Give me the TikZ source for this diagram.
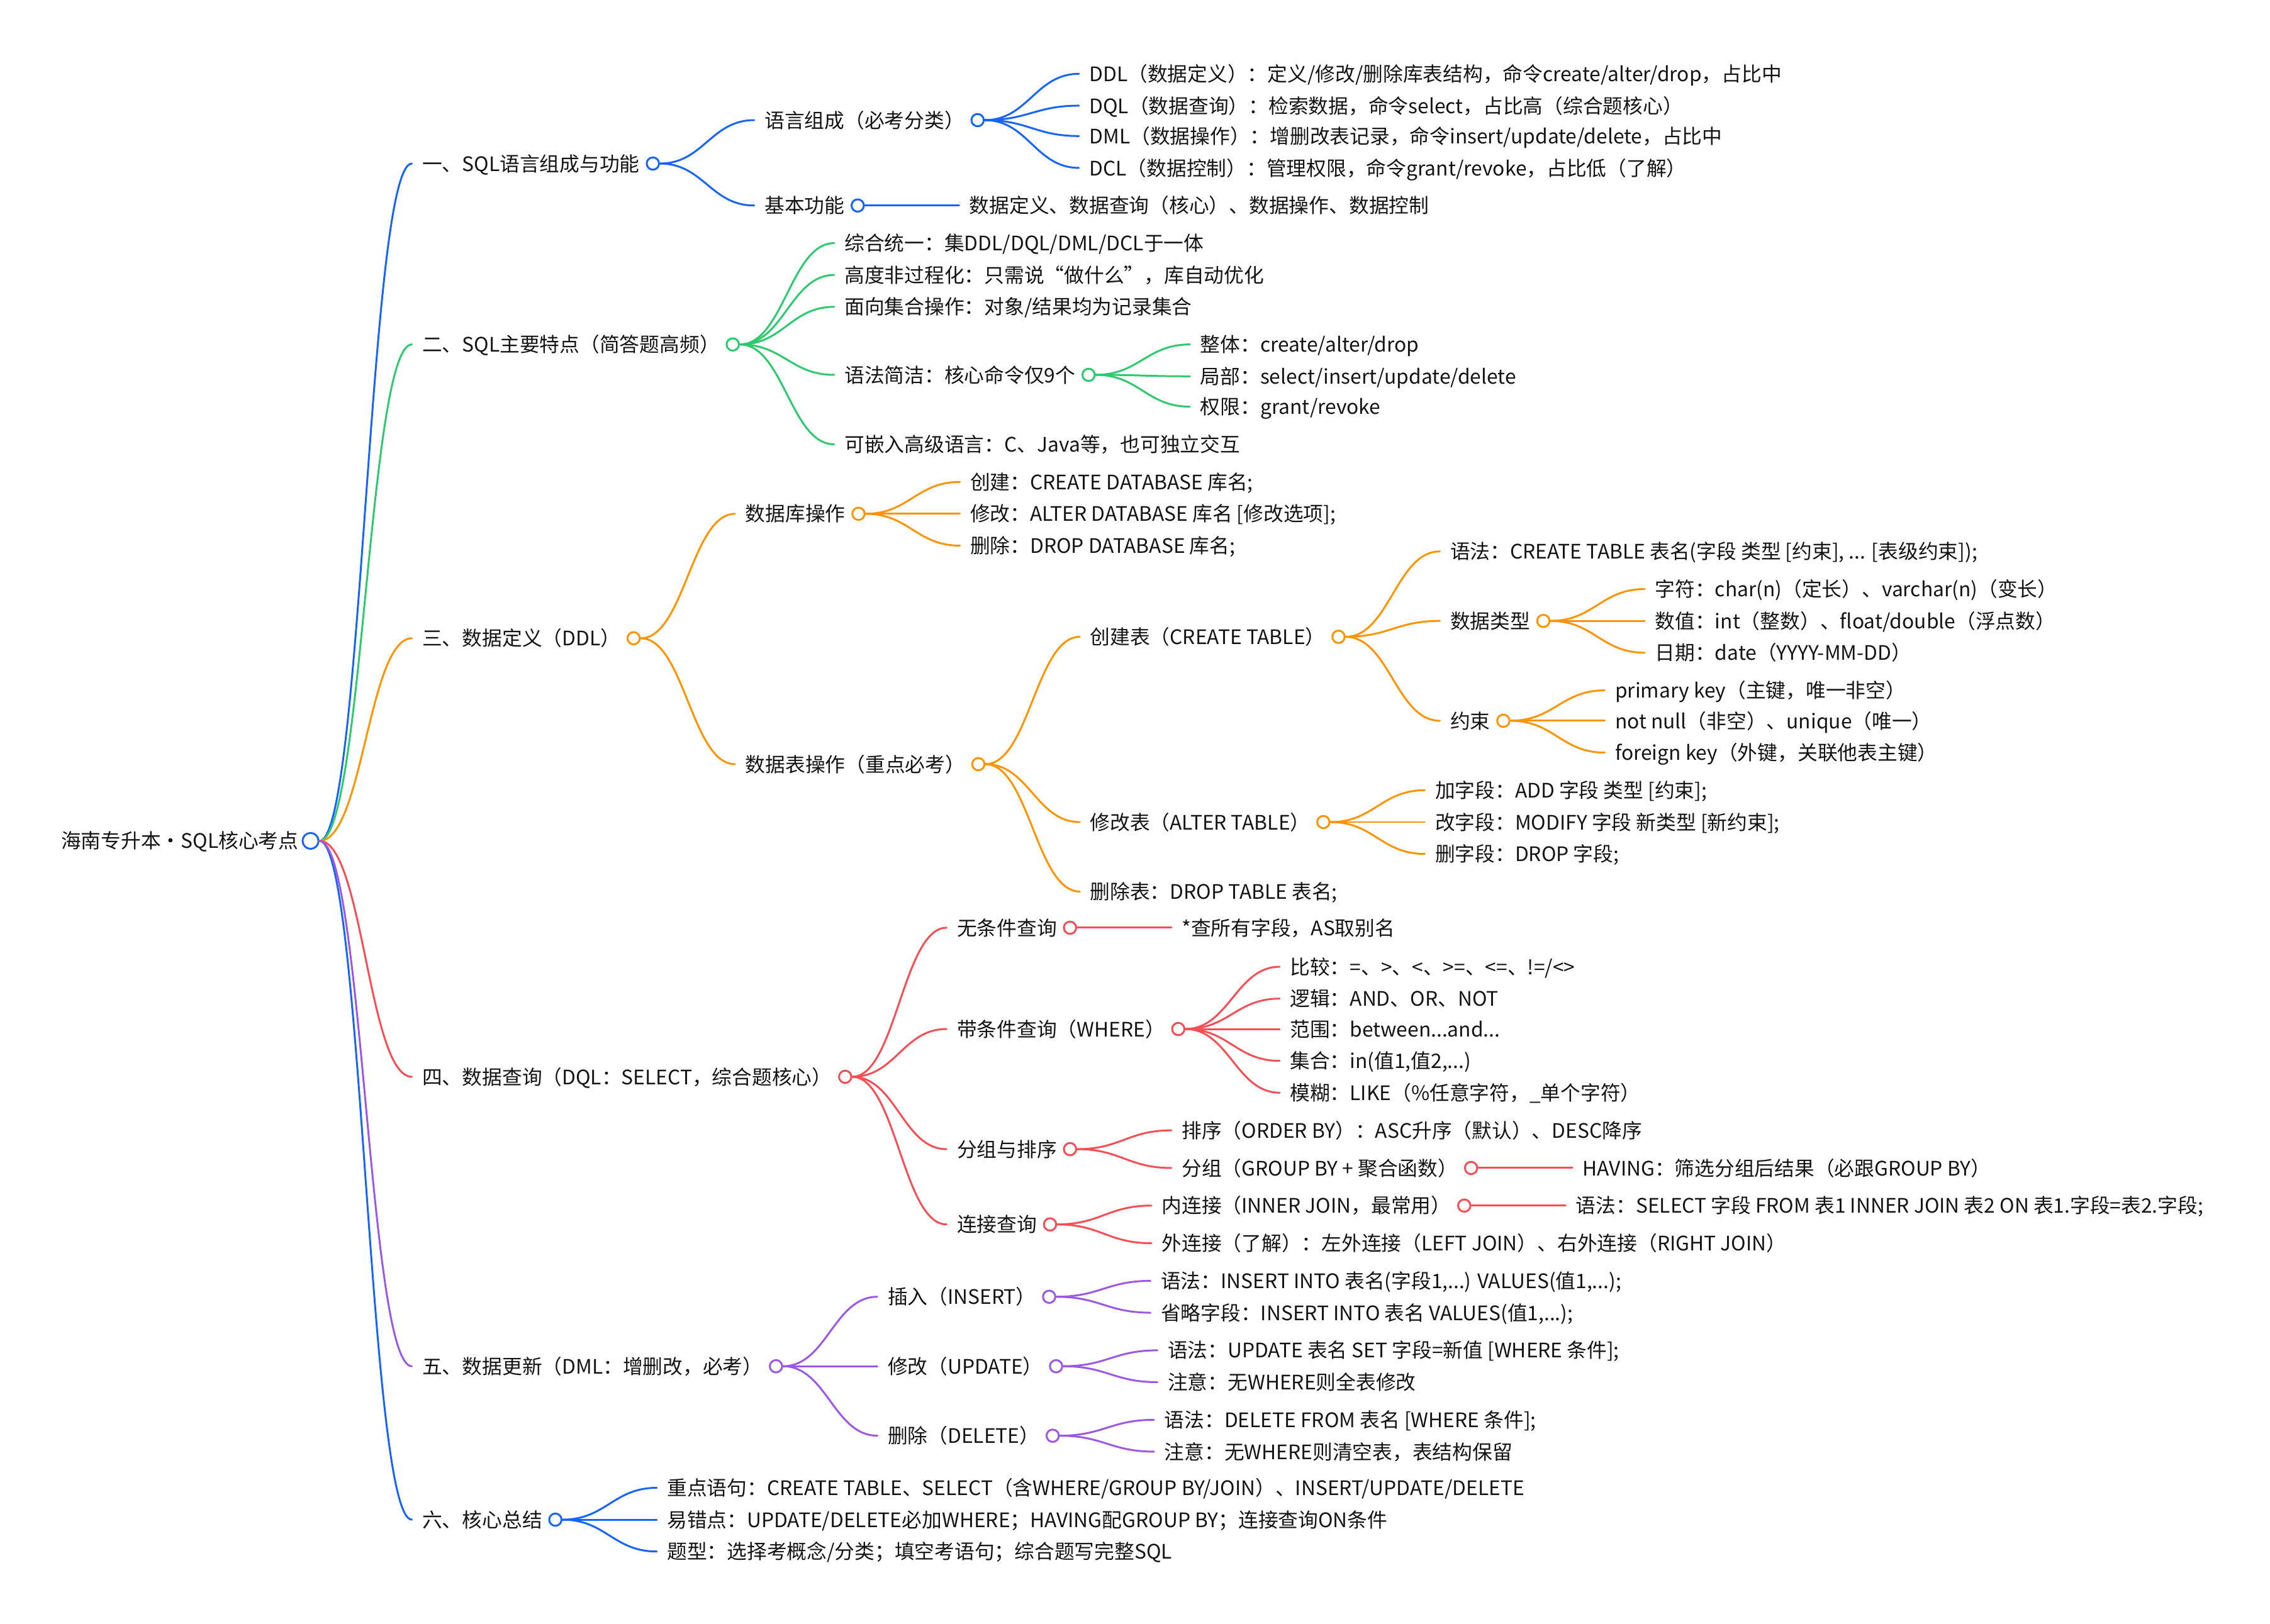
\documentclass[tikz,border=0pt]{standalone}
\usepackage{fontspec}
\setmainfont{Noto Sans CJK SC}
\usepackage{xcolor}
\usepackage{tikz}
\usetikzlibrary{positioning}
\definecolor{SQLBlue}{RGB}{22, 100, 250}
\definecolor{SQLGreen}{RGB}{46, 200, 110}
\definecolor{SQLOrange}{RGB}{255, 148, 0}
\definecolor{SQLRed}{RGB}{245, 78, 84}
\definecolor{SQLPurple}{RGB}{156, 88, 228}
\definecolor{SQLInk}{RGB}{20, 20, 20}
\newcommand{\twig}[3]{\draw[link, #1] (#2.east) .. controls ([xshift=30pt]#2.east) and ([xshift=-37pt]#3.west) .. ([xshift=-7pt]#3.west);}

\begin{document}
\begin{tikzpicture}[x=1pt, y=-1pt,
  label/.style={anchor=west, inner sep=0pt, text height=11.5pt, text depth=1pt,
    font=\fontsize{13.8}{17}\selectfont, text=SQLInk},
  topic/.style={label, xshift=77pt},
  hub/.style={circle, draw=#1, fill=white, line width=1.3pt, minimum size=8.5pt, inner sep=0pt},
  link/.style={line width=1.3pt, line cap=round}]
  \useasboundingbox (0,0) rectangle (1568,1122);

  \node[label] (root) at (42,581) {海南专升本・SQL核心考点};
  \node[hub=SQLBlue, minimum size=11pt, right=2pt of root] (rooto) {};

  \node[topic] (s1) at (rooto.center |- 0,113) {一、SQL语言组成与功能};
  \node[hub=SQLBlue, right=4pt of s1] (s1o) {};
  \node[topic] (s2) at (rooto.center |- 0,238) {二、SQL主要特点（简答题高频）};
  \node[hub=SQLGreen, right=4pt of s2] (s2o) {};
  \node[topic] (s3) at (rooto.center |- 0,441) {三、数据定义（DDL）};
  \node[hub=SQLOrange, right=4pt of s3] (s3o) {};
  \node[topic] (s4) at (rooto.center |- 0,744) {四、数据查询（DQL：SELECT，综合题核心）};
  \node[hub=SQLRed, right=4pt of s4] (s4o) {};
  \node[topic] (s5) at (rooto.center |- 0,944) {五、数据更新（DML：增删改，必考）};
  \node[hub=SQLPurple, right=4pt of s5] (s5o) {};
  \node[topic] (s6) at (rooto.center |- 0,1050) {六、核心总结};
  \node[hub=SQLBlue, right=4pt of s6] (s6o) {};

  % 一
  \node[topic] (lang) at (s1o.center |- 0,83) {语言组成（必考分类）};
  \node[hub=SQLBlue, right=4pt of lang] (lango) {};
  \node[topic] (ddl) at (lango.center |- 0,51) {DDL（数据定义）：定义/修改/删除库表结构，命令create/alter/drop，占比中};
  \node[topic] (dql) at (lango.center |- 0,73) {DQL（数据查询）：检索数据，命令select，占比高（综合题核心）};
  \node[topic] (dml) at (lango.center |- 0,94) {DML（数据操作）：增删改表记录，命令insert/update/delete，占比中};
  \node[topic] (dcl) at (lango.center |- 0,116) {DCL（数据控制）：管理权限，命令grant/revoke，占比低（了解）};
  \node[topic] (func) at (s1o.center |- 0,142) {基本功能};
  \node[hub=SQLBlue, right=4pt of func] (funco) {};
  \node[topic] (funcs) at (funco.center |- 0,142) {数据定义、数据查询（核心）、数据操作、数据控制};

  % 二
  \node[topic] (unify) at (s2o.center |- 0,168) {综合统一：集DDL/DQL/DML/DCL于一体};
  \node[topic] (nonproc) at (s2o.center |- 0,190) {高度非过程化：只需说“做什么”，库自动优化};
  \node[topic] (setop) at (s2o.center |- 0,212) {面向集合操作：对象/结果均为记录集合};
  \node[topic] (brief) at (s2o.center |- 0,259) {语法简洁：核心命令仅9个};
  \node[hub=SQLGreen, right=4pt of brief] (briefo) {};
  \node[topic] (whole) at (briefo.center |- 0,238) {整体：create/alter/drop};
  \node[topic] (part) at (briefo.center |- 0,260) {局部：select/insert/update/delete};
  \node[topic] (perm) at (briefo.center |- 0,281) {权限：grant/revoke};
  \node[topic] (embed) at (s2o.center |- 0,307) {可嵌入高级语言：C、Java等，也可独立交互};

  % 三
  \node[topic] (dbop) at (s3o.center |- 0,355) {数据库操作};
  \node[hub=SQLOrange, right=4pt of dbop] (dbopo) {};
  \node[topic] (dbnew) at (dbopo.center |- 0,333) {创建：CREATE DATABASE 库名;};
  \node[topic] (dbalt) at (dbopo.center |- 0,355) {修改：ALTER DATABASE 库名 [修改选项];};
  \node[topic] (dbdrop) at (dbopo.center |- 0,377) {删除：DROP DATABASE 库名;};
  \node[topic] (tbop) at (s3o.center |- 0,528) {数据表操作（重点必考）};
  \node[hub=SQLOrange, right=4pt of tbop] (tbopo) {};
  \node[topic] (tbnew) at (tbopo.center |- 0,440) {创建表（CREATE TABLE）};
  \node[hub=SQLOrange, right=4pt of tbnew] (tbnewo) {};
  \node[topic] (tbsyn) at (tbnewo.center |- 0,381) {语法：CREATE TABLE 表名(字段 类型 [约束], ... [表级约束]);};
  \node[topic] (dtype) at (tbnewo.center |- 0,429) {数据类型};
  \node[hub=SQLOrange, right=4pt of dtype] (dtypeo) {};
  \node[topic] (tchar) at (dtypeo.center |- 0,407) {字符：char(n)（定长）、varchar(n)（变长）};
  \node[topic] (tnum) at (dtypeo.center |- 0,429) {数值：int（整数）、float/double（浮点数）};
  \node[topic] (tdate) at (dtypeo.center |- 0,451) {日期：date（YYYY-MM-DD）};
  \node[topic] (cons) at (tbnewo.center |- 0,498) {约束};
  \node[hub=SQLOrange, right=4pt of cons] (conso) {};
  \node[topic] (pk) at (conso.center |- 0,477) {primary key（主键，唯一非空）};
  \node[topic] (nn) at (conso.center |- 0,498) {not null（非空）、unique（唯一）};
  \node[topic] (fk) at (conso.center |- 0,520) {foreign key（外键，关联他表主键）};
  \node[topic] (tbalt) at (tbopo.center |- 0,568) {修改表（ALTER TABLE）};
  \node[hub=SQLOrange, right=4pt of tbalt] (tbalto) {};
  \node[topic] (fadd) at (tbalto.center |- 0,546) {加字段：ADD 字段 类型 [约束];};
  \node[topic] (fmod) at (tbalto.center |- 0,568) {改字段：MODIFY 字段 新类型 [新约束];};
  \node[topic] (fdel) at (tbalto.center |- 0,590) {删字段：DROP 字段;};
  \node[topic] (tbdrop) at (tbopo.center |- 0,616) {删除表：DROP TABLE 表名;};

  % 四
  \node[topic] (qall) at (s4o.center |- 0,641) {无条件查询};
  \node[hub=SQLRed, right=4pt of qall] (qallo) {};
  \node[topic] (qallx) at (qallo.center |- 0,641) {*查所有字段，AS取别名};
  \node[topic] (qwhere) at (s4o.center |- 0,711) {带条件查询（WHERE）};
  \node[hub=SQLRed, right=4pt of qwhere] (qwhereo) {};
  \node[topic] (wcmp) at (qwhereo.center |- 0,668) {比较：=、>、<、>=、<=、!=/<>};
  \node[topic] (wlog) at (qwhereo.center |- 0,690) {逻辑：AND、OR、NOT};
  \node[topic] (wrng) at (qwhereo.center |- 0,711) {范围：between...and...};
  \node[topic] (wset) at (qwhereo.center |- 0,733) {集合：in(值1,值2,...)};
  \node[topic] (wlike) at (qwhereo.center |- 0,755) {模糊：LIKE（\%任意字符，\_单个字符）};
  \node[topic] (qgrp) at (s4o.center |- 0,794) {分组与排序};
  \node[hub=SQLRed, right=4pt of qgrp] (qgrpo) {};
  \node[topic] (gord) at (qgrpo.center |- 0,781) {排序（ORDER BY）：ASC升序（默认）、DESC降序};
  \node[topic] (gby) at (qgrpo.center |- 0,807) {分组（GROUP BY + 聚合函数）};
  \node[hub=SQLRed, right=4pt of gby] (gbyo) {};
  \node[topic] (ghav) at (gbyo.center |- 0,807) {HAVING：筛选分组后结果（必跟GROUP BY）};
  \node[topic] (qjoin) at (s4o.center |- 0,846) {连接查询};
  \node[hub=SQLRed, right=4pt of qjoin] (qjoino) {};
  \node[topic] (jin) at (qjoino.center |- 0,833) {内连接（INNER JOIN，最常用）};
  \node[hub=SQLRed, right=4pt of jin] (jino) {};
  \node[topic] (jsyn) at (jino.center |- 0,833) {语法：SELECT 字段 FROM 表1 INNER JOIN 表2 ON 表1.字段=表2.字段;};
  \node[topic] (jout) at (qjoino.center |- 0,859) {外连接（了解）：左外连接（LEFT JOIN）、右外连接（RIGHT JOIN）};

  % 五
  \node[topic] (ins) at (s5o.center |- 0,896) {插入（INSERT）};
  \node[hub=SQLPurple, right=4pt of ins] (inso) {};
  \node[topic] (inssyn) at (inso.center |- 0,885) {语法：INSERT INTO 表名(字段1,...) VALUES(值1,...);};
  \node[topic] (insabr) at (inso.center |- 0,907) {省略字段：INSERT INTO 表名 VALUES(值1,...);};
  \node[topic] (upd) at (s5o.center |- 0,944) {修改（UPDATE）};
  \node[hub=SQLPurple, right=4pt of upd] (updo) {};
  \node[topic] (updsyn) at (updo.center |- 0,933) {语法：UPDATE 表名 SET 字段=新值 [WHERE 条件];};
  \node[topic] (updnote) at (updo.center |- 0,955) {注意：无WHERE则全表修改};
  \node[topic] (del) at (s5o.center |- 0,992) {删除（DELETE）};
  \node[hub=SQLPurple, right=4pt of del] (delo) {};
  \node[topic] (delsyn) at (delo.center |- 0,981) {语法：DELETE FROM 表名 [WHERE 条件];};
  \node[topic] (delnote) at (delo.center |- 0,1003) {注意：无WHERE则清空表，表结构保留};

  % 六
  \node[topic] (key) at (s6o.center |- 0,1028) {重点语句：CREATE TABLE、SELECT（含WHERE/GROUP BY/JOIN）、INSERT/UPDATE/DELETE};
  \node[topic] (trap) at (s6o.center |- 0,1050) {易错点：UPDATE/DELETE必加WHERE；HAVING配GROUP BY；连接查询ON条件};
  \node[topic] (kind) at (s6o.center |- 0,1072) {题型：选择考概念/分类；填空考语句；综合题写完整SQL};

  \foreach \c in {s1,s6} \twig{SQLBlue}{rooto}{\c};
  \twig{SQLGreen}{rooto}{s2}
  \twig{SQLOrange}{rooto}{s3}
  \twig{SQLRed}{rooto}{s4}
  \twig{SQLPurple}{rooto}{s5}

  \foreach \c in {lang,func} \twig{SQLBlue}{s1o}{\c};
  \foreach \c in {ddl,dql,dml,dcl} \twig{SQLBlue}{lango}{\c};
  \twig{SQLBlue}{funco}{funcs}

  \foreach \c in {unify,nonproc,setop,brief,embed} \twig{SQLGreen}{s2o}{\c};
  \foreach \c in {whole,part,perm} \twig{SQLGreen}{briefo}{\c};

  \foreach \c in {dbop,tbop} \twig{SQLOrange}{s3o}{\c};
  \foreach \c in {dbnew,dbalt,dbdrop} \twig{SQLOrange}{dbopo}{\c};
  \foreach \c in {tbnew,tbalt,tbdrop} \twig{SQLOrange}{tbopo}{\c};
  \foreach \c in {tbsyn,dtype,cons} \twig{SQLOrange}{tbnewo}{\c};
  \foreach \c in {tchar,tnum,tdate} \twig{SQLOrange}{dtypeo}{\c};
  \foreach \c in {pk,nn,fk} \twig{SQLOrange}{conso}{\c};
  \foreach \c in {fadd,fmod,fdel} \twig{SQLOrange}{tbalto}{\c};

  \foreach \c in {qall,qwhere,qgrp,qjoin} \twig{SQLRed}{s4o}{\c};
  \twig{SQLRed}{qallo}{qallx}
  \foreach \c in {wcmp,wlog,wrng,wset,wlike} \twig{SQLRed}{qwhereo}{\c};
  \foreach \c in {gord,gby} \twig{SQLRed}{qgrpo}{\c};
  \twig{SQLRed}{gbyo}{ghav}
  \foreach \c in {jin,jout} \twig{SQLRed}{qjoino}{\c};
  \twig{SQLRed}{jino}{jsyn}

  \foreach \c in {ins,upd,del} \twig{SQLPurple}{s5o}{\c};
  \foreach \c in {inssyn,insabr} \twig{SQLPurple}{inso}{\c};
  \foreach \c in {updsyn,updnote} \twig{SQLPurple}{updo}{\c};
  \foreach \c in {delsyn,delnote} \twig{SQLPurple}{delo}{\c};

  \foreach \c in {key,trap,kind} \twig{SQLBlue}{s6o}{\c};
\end{tikzpicture}
\end{document}
